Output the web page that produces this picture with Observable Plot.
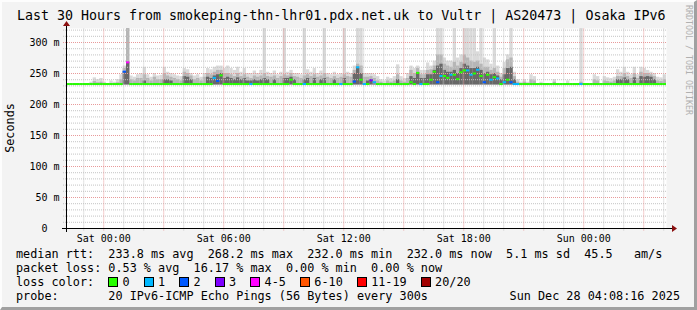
<!DOCTYPE html>
<html><head><meta charset="utf-8">
<script src="https://cdn.jsdelivr.net/npm/d3@7"></script>
<script src="https://cdn.jsdelivr.net/npm/@observablehq/plot@0.6"></script>
<style>
html,body{margin:0;padding:0;background:#f3f3f3;}
#wrap{position:relative;width:697px;height:310px;background:#f3f3f3;overflow:hidden;font-family:"DejaVu Sans Mono",monospace;color:#000;}
#frame{position:absolute;left:0;top:0;width:697px;height:310px;box-sizing:border-box;border-style:solid;border-width:2px 3px 3px 2px;border-color:#fdfdfd #a0a0a0 #a0a0a0 #fdfdfd;pointer-events:none;}
#chart{position:absolute;left:0;top:0;}
.t{position:absolute;white-space:pre;font-family:"DejaVu Sans Mono",monospace;}
#title{left:17px;top:9px;font-size:13.3px;line-height:14px;}
#ylab{left:-22px;top:121px;width:64px;text-align:center;font-size:11.8px;line-height:14px;transform:rotate(-90deg);}
#brand{left:684px;top:5px;font-size:8.3px;writing-mode:vertical-rl;color:#b0b0b0;}
.leg{left:16px;font-size:11.8px;line-height:14px;}
.box{display:inline-block;width:8px;height:8px;border:1px solid #000;vertical-align:-1px;margin-right:calc(2ch - 10px);}
</style>
</head><body>
<div id="wrap">
  <div id="chart"></div>
  <div class="t" id="title"></div>
  <div class="t" id="ylab"></div>
  <div class="t" id="brand"></div>
  <div class="t leg" id="l1" style="top:247px"></div>
  <div class="t leg" id="l2" style="top:261px"></div>
  <div class="t leg" id="l3" style="top:275px"></div>
  <div class="t leg" id="l4" style="top:289px"></div>
  <div class="t" id="stamp" style="right:17px;top:289px;font-size:11.8px;line-height:14px;"></div>
  <div id="frame"></div>
</div>
<script>
// ---- texts ----
const titleText = "Last 30 Hours from smokeping-thn-lhr01.pdx.net.uk to Vultr | AS20473 | Osaka IPv6";
const yAxisTitle = "Seconds";
const brandText = "RRDTOOL / TOBI OETIKER";
const rttStats = ["233.8 ms avg", "268.2 ms max", "232.0 ms min", "232.0 ms now", "5.1 ms sd", "45.5   am/s"];
const lossStats = ["0.53 % avg", "16.17 % max", "0.00 % min", "0.00 % now"];
const lossLabels = ["0", "1", "2", "3", "4-5", "6-10", "11-19", "20/20"];
const lossMax = [0, 1, 2, 3, 5, 10, 19, 20];
const lossColors = ["#26ff00", "#00b8ff", "#0059ff", "#7e00ff", "#ff00ff", "#ff5500", "#ff0000", "#a10000"];
const probeText = "20 IPv6-ICMP Echo Pings (56 Bytes) every 300s";
const stampText = "Sun Dec 28 04:08:16 2025";

// ---- axes ----
const xTickDates = ["2025-12-27T00:00:00Z", "2025-12-27T06:00:00Z", "2025-12-27T12:00:00Z", "2025-12-27T18:00:00Z", "2025-12-28T00:00:00Z"];
const xTickLabels = ["Sat 00:00", "Sat 06:00", "Sat 12:00", "Sat 18:00", "Sun 00:00"];
const yTickValues = [0, 50, 100, 150, 200, 250, 300];
const yTickLabels = ["0\u00a0\u00a0", "50 m", "100 m", "150 m", "200 m", "250 m", "300 m"];
const yMax = 322.6;
const startTime = "2025-12-26T22:08:16Z";
const endTime = "2025-12-28T04:08:16Z";

// ---- data: 10-minute bins, ms ----
const med = [
233,233,233,233,233,233,233,233,233,233,
233,233,233,233,233,233,233,253,268,233,
233,233,233,233,233,233,233,233,233,233,
233,233,233,233,233,233,233,233,233,233,
233,233,233,233,243,238,247,233,233,233,
233,233,233,233,233,233,233,233,233,233,
233,233,233,233,233,233,233,240,233,233,
233,233,233,233,233,233,233,233,233,233,
233,233,233,233,233,233,237,260,240,233,
233,239,236,233,233,233,233,233,233,233,
233,233,233,236,233,251,233,233,233,240,
253,236,246,246,243,248,248,241,252,255,
255,248,250,256,246,236,248,240,244,242,
233,236,240,236,233,233,233,233,233,233,
233,233,233,233,233,233,233,233,233,233,
233,233,233,233,233,233,233,233,233,233,
233,233,233,233,233,233,233,233,233,233,
233,233,233,233,233,233,233,233,233,233];
const loss = [
0,0,0,0,0,0,0,0,0,0,
0,0,0,0,0,0,0,2,4,0,
0,0,0,0,0,0,0,0,0,0,
0,0,0,0,0,0,0,0,0,0,
0,0,0,0,1,2,0,0,0,0,
0,0,0,0,0,1,0,0,0,0,
0,0,0,0,0,0,0,0,0,0,
0,1,0,0,0,0,0,0,0,0,
0,0,1,0,0,0,2,1,0,1,
0,3,1,0,0,0,0,0,0,0,
0,0,0,0,0,0,1,0,0,0,
0,2,1,0,0,1,0,0,0,0,
1,1,0,1,0,2,0,1,0,1,
0,1,0,2,1,1,0,0,0,0,
0,0,0,0,0,0,0,0,0,0,
0,0,0,0,1,0,0,0,0,0,
0,0,0,0,0,0,0,0,0,0,
0,0,0,0,0,0,0,0,0,0];
const smokeHi = [
233,233,233,233,233,233,233,236,243,240,
242,236,233,238,236,240,248,262,330,246,
244,248,250,260,248,244,250,246,247,260,
252,250,248,246,245,258,256,250,246,248,
244,250,258,256,260,262,262,258,262,258,
255,260,252,258,250,250,254,250,255,330,
252,250,254,248,252,330,252,255,250,250,
248,330,256,252,258,250,254,330,250,248,
252,248,250,330,252,250,262,330,330,250,
250,250,248,245,240,238,244,242,245,264,
245,242,250,262,258,262,255,255,267,262,
270,330,330,275,270,270,330,275,280,330,
330,330,330,285,330,275,272,265,330,262,
250,268,280,330,252,240,236,240,236,248,
245,233,236,233,233,233,240,233,233,233,
238,233,233,233,330,233,233,233,248,245,
233,245,243,242,244,256,252,260,252,248,
260,248,260,258,255,252,250,244,243,248];
const smokeMid = [
233,233,233,233,233,233,233,233,237,235,
236,233,233,234,233,235,240,258,330,240,
238,242,242,248,242,238,244,240,240,250,
246,244,242,240,238,252,250,246,240,242,
238,244,250,248,252,255,255,250,250,248,
245,250,245,248,244,242,246,244,246,250,
245,244,246,242,245,248,246,250,245,244,
242,246,248,245,248,244,246,250,244,242,
245,242,244,248,245,244,255,265,262,244,
244,245,242,238,236,233,238,236,238,248,
238,236,242,255,250,258,248,248,255,256,
262,280,280,265,262,260,268,262,268,280,
275,270,268,270,265,260,260,255,258,252,
244,258,272,275,245,236,233,236,233,240,
238,233,233,233,233,233,236,233,233,233,
233,233,233,233,236,233,233,233,240,238,
233,238,237,236,238,245,245,250,245,242,
250,242,252,250,250,248,245,238,237,240];
const smokeLo = [
233,233,233,233,233,233,233,233,233,233,
233,233,233,233,233,233,233,253,268,233,
233,233,233,238,233,233,233,233,233,240,
240,238,233,233,233,245,244,240,233,233,
233,233,244,242,246,248,250,242,244,242,
240,243,240,242,238,238,240,238,240,242,
240,233,240,233,233,242,242,244,240,233,
233,240,242,233,242,233,240,242,233,233,
240,233,233,242,233,233,250,260,250,233,
238,240,233,233,233,233,233,233,233,240,
233,233,233,245,242,251,242,242,248,248,
255,262,265,255,252,252,255,250,258,265,
262,258,258,260,255,250,252,248,250,246,
240,248,258,260,240,233,233,233,233,233,
233,233,233,233,233,233,233,233,233,233,
233,233,233,233,233,233,233,233,233,233,
233,233,233,233,233,240,240,243,240,233,
243,233,245,244,245,244,240,233,233,233];

// ---- build ----
const t0 = new Date(startTime), t1 = new Date(endTime);
const STEP = 10 * 60 * 1000;
const colorFor = l => lossColors[lossMax.findIndex(m => l <= m)];
const bins = med.map((m, i) => ({
  a: new Date(+t0 + i * STEP), b: new Date(+t0 + (i + 1) * STEP),
  med: m, hi: smokeHi[i], mid: smokeMid[i], lo: smokeLo[i], color: colorFor(loss[i])
}));
const xTicks = xTickDates.map(d => new Date(d));
const minorX = d3.utcHour.range(t0, t1).filter(d => d.getUTCHours() % 3 !== 0);
const majorX = d3.utcHour.every(3).range(t0, t1);
const minorY = d3.range(10, yMax, 10).filter(v => v % 50 !== 0);
const majorY = d3.range(50, yMax, 50);
const gridLeft = new Date(+t0 - 9 * 60 * 1000);
const SMOKE_BASE = 231.5;

const plot = Plot.plot({
  width: 697, height: 245,
  marginLeft: 66, marginRight: 31, marginTop: 28, marginBottom: 17,
  style: {background: "transparent", fontFamily: "DejaVu Sans Mono, monospace", fontSize: "10px", color: "#000", overflow: "visible"},
  x: {type: "utc", domain: [t0, t1], ticks: xTicks, tickSize: 0, tickPadding: 6, label: null,
      tickFormat: d => xTickLabels[xTicks.findIndex(t => +t === +d)]},
  y: {domain: [0, yMax], ticks: yTickValues, tickSize: 0, tickPadding: 7, label: null,
      tickFormat: d => yTickLabels[yTickValues.indexOf(d)]},
  color: {type: "identity"},
  marks: [
    Plot.frame({fill: "#ffffff", stroke: null}),
    Plot.rect(bins, {x1: "a", x2: "b", y1: () => SMOKE_BASE, y2: "hi", fill: "#dadada", clip: true}),
    Plot.rect(bins, {x1: "a", x2: "b", y1: () => SMOKE_BASE, y2: "mid", fill: "#b6b6b6", clip: true}),
    Plot.rect(bins, {x1: "a", x2: "b", y1: () => SMOKE_BASE, y2: "lo", fill: "#686868", clip: true}),
    Plot.ruleY(minorY, {x1: gridLeft, x2: t1, stroke: "#c4c4c4", strokeDasharray: "1,1"}),
    Plot.ruleY(majorY, {x1: gridLeft, x2: t1, stroke: "#e89a9a", strokeDasharray: "1,1"}),
    Plot.ruleX(minorX, {y1: -4, y2: yMax, stroke: "#c4c4c4", strokeDasharray: "1,1"}),
    Plot.ruleX(majorX, {y1: -4, y2: yMax, stroke: "#e89a9a", strokeDasharray: "1,1"}),
    Plot.ruleY(bins, {x1: "a", x2: "b", y: "med", stroke: "color", strokeWidth: 2})
  ]
});
document.getElementById("chart").appendChild(plot);

// axis lines and arrows (frame of the plot area)
const svg = d3.select(plot);
const L = 66.5, B = 228.5;
svg.append("line").attr("x1", 62).attr("x2", 672).attr("y1", B).attr("y2", B).attr("stroke", "#000");
svg.append("line").attr("x1", L).attr("x2", L).attr("y1", 232).attr("y2", 25).attr("stroke", "#000");
svg.append("path").attr("d", `M672,${B - 3.5}L677,${B}L672,${B + 3.5}Z`).attr("fill", "#8b1010");
svg.append("path").attr("d", `M${L - 3.5},26L${L},21L${L + 3.5},26Z`).attr("fill", "#8b1010");

// texts
document.getElementById("title").textContent = titleText;
document.getElementById("ylab").textContent = yAxisTitle;
document.getElementById("brand").textContent = brandText;
document.getElementById("l1").textContent = "median rtt:  " + rttStats.join("  ");
document.getElementById("l2").textContent = "packet loss: " + lossStats.join("  ");
const l3 = document.getElementById("l3");
l3.appendChild(document.createTextNode("loss color:  "));
lossLabels.forEach((lab, i) => {
  const b = document.createElement("span");
  b.className = "box"; b.style.background = lossColors[i];
  l3.appendChild(b);
  l3.appendChild(document.createTextNode(lab + (i < lossLabels.length - 1 ? "  " : "")));
});
document.getElementById("l4").textContent = "probe:       " + probeText;
document.getElementById("stamp").textContent = stampText;
</script>
</body></html>
